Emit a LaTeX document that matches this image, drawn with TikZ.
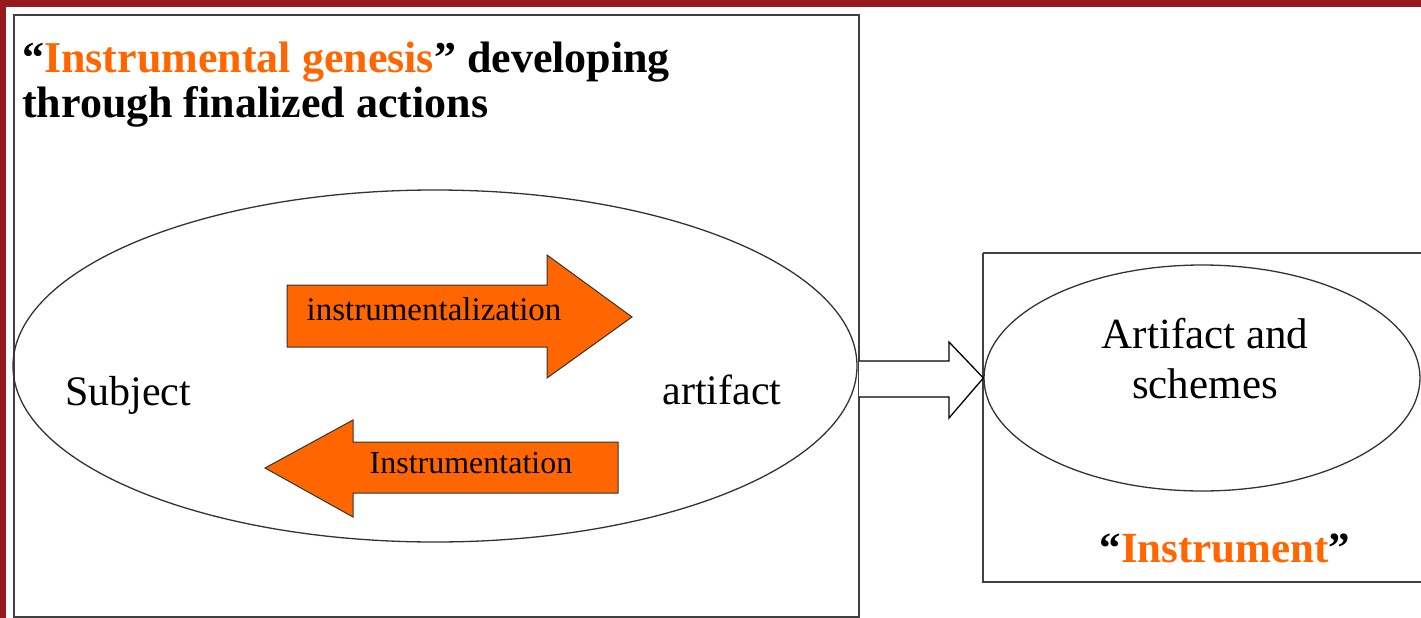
\documentclass[tikz,border=0pt]{standalone}
\usepackage{fontspec}
\setmainfont{LiberationSerif}[Extension=.ttf, UprightFont=*-Regular, BoldFont=*-Bold]
\usetikzlibrary{shapes.geometric}
\definecolor{slideback}{HTML}{951A1D}
\definecolor{genorange}{HTML}{FF6600}
\definecolor{lineg}{HTML}{333333}
\newcommand{\fs}[1]{\fontsize{#1}{#1}\selectfont}

\begin{document}
\begin{tikzpicture}[x=1pt,y=-1pt]
\tikzstyle{every node}+=[inner sep=0pt]
\tikzstyle{actarrow}=[fill=genorange, draw=lineg, line width=1pt, line join=miter]
\tikzstyle{frame}=[draw=black!75, line width=1.5pt]
\useasboundingbox (0,0) rectangle (1421,618);
\fill [slideback] (0,0) rectangle (1421,618);
\fill [white] (6,7) rectangle (1421,618);
% left frame: instrumental genesis
\draw [frame] (14,15) rectangle (859,617);
\node [anchor=base west] (title) at (22,72) {\fs{44}\bfseries \textcolor{black}{``}\textcolor{genorange}{Instrumental genesis}'' developing};
\node [anchor=base west] (titlecont) at (22,117) {\fs{44}\bfseries through finalized actions};
\node [ellipse, draw=lineg, line width=1.3pt, minimum width=844pt, minimum height=352pt] (genesis) at (435,366) {};
\draw (128,405) node [anchor=base] (subj) {\fs{42}Subject};
\draw (722,404) node [anchor=base] (artf) {\fs{42}artifact};
\draw [actarrow] (287,285) -- (547,285) -- (547,255) -- (632,317) -- (547,378) -- (547,347) -- (287,347) -- cycle;
\draw (434,320) node [anchor=base] (instz) {\fs{33}instrumentalization};
\draw [actarrow] (618,442) -- (353,442) -- (353,420) -- (265,468) -- (353,517) -- (353,493) -- (618,493) -- cycle;
\draw (471,473) node [anchor=base] (instn) {\fs{32}Instrumentation};
% right frame: instrument
\draw [frame] (983,253) -- (1425,253);
\draw [frame] (983,253) -- (983,582) -- (1425,582);
\node [ellipse, draw=lineg, line width=1.3pt, minimum width=436pt, minimum height=226pt] (instr) at (1202,378) {};
\draw (1205,348) node [anchor=base] (artsch) {\fs{43}Artifact and};
\draw (1205,398) node [anchor=base] (schemes) {\fs{43}schemes};
\draw (1225,562) node [anchor=base] (instrlabel) {\fs{43}\bfseries ``\textcolor{genorange}{Instrument}''};
% hollow arrow between the frames
\coordinate (tip) at (instr.west);
\filldraw [fill=white, draw=black, line width=1.3pt] (859,361) -- (949,361) -- (949,342) -- (tip) -- (949,418) -- (949,397) -- (859,397);
\end{tikzpicture}
\end{document}
